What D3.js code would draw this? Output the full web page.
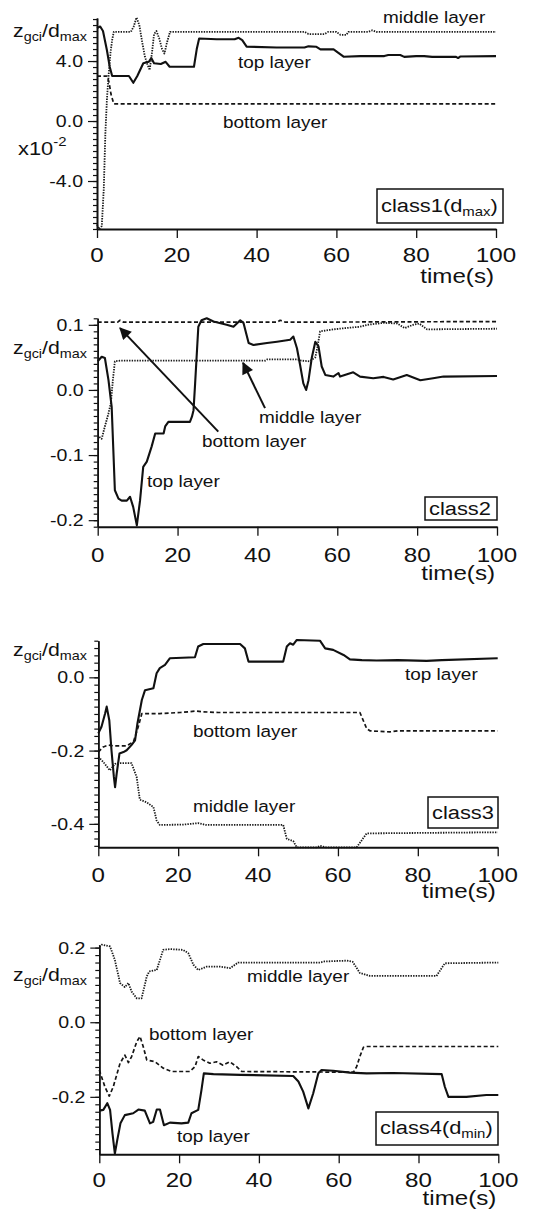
<!DOCTYPE html>
<html>
<head>
<meta charset="utf-8">
<script src="https://cdn.jsdelivr.net/npm/d3@7"></script>
<style>
  body { margin: 0; background: #fff; }
  svg { display: block; }
  text { font-family: "Liberation Sans", Arial, Helvetica, sans-serif; fill: #111; }
</style>
</head>
<body>
<script>
/***********************************************************************/
// Data (time in s, value z_gci/d_max)
/***********************************************************************/
const xTicks = [0, 20, 40, 60, 80, 100]

// class1 values are in units of 1e-2
const c1Top = [[0,6.2],[0.8,6.3],[1.5,6.0],[2.5,4.7],[3.2,3.6],[3.8,3.0],[8.0,3.0],[9.1,2.55],[10.1,3.0],[11.6,3.85],[13.0,3.95],[13.6,4.2],[14.3,3.85],[16.0,3.8],[17.2,3.95],[18.2,3.62],[24.3,3.62],[25.0,4.8],[25.6,5.5],[30,5.45],[34.5,5.45],[35.5,5.55],[36.4,5.4],[37.5,4.96],[45,4.9],[52,4.9],[53,4.98],[55,4.95],[56,4.78],[59.3,4.78],[60.5,4.55],[61.8,4.29],[66,4.33],[72,4.33],[73,4.4],[76,4.4],[77,4.28],[80,4.33],[82,4.33],[84,4.28],[90,4.28],[90.5,4.2],[91,4.3],[100,4.33]]
const c1Mid = [[0,-6.9],[0.5,-7.2],[1.2,-7.0],[1.7,-4.5],[2.1,-0.8],[2.5,1.5],[2.9,3.0],[3.4,4.6],[3.8,5.4],[4.2,5.95],[8.5,5.95],[9.2,6.3],[9.9,6.9],[10.6,6.4],[11.3,5.3],[12.0,4.3],[12.6,3.8],[13.2,3.4],[13.8,4.6],[14.3,5.8],[14.9,6.0],[15.6,5.5],[16.3,4.8],[16.9,4.5],[17.5,5.2],[18.3,5.95],[52,5.95],[53,5.8],[57,5.8],[58,5.95],[60,5.95],[61,5.75],[62.5,5.75],[63,5.95],[68,5.95],[69,6.05],[70,5.95],[100,5.95]]
const c1Bot = [[0,3.0],[2.5,3.0],[3.0,2.6],[3.5,1.8],[4.2,1.15],[100,1.15]]

const c2Top = [[0,0.044],[1,0.051],[1.8,0.049],[2.7,0.015],[3.5,-0.026],[3.9,-0.09],[4.3,-0.154],[5.2,-0.167],[6.0,-0.17],[7.3,-0.17],[8.1,-0.164],[8.9,-0.18],[9.8,-0.208],[10.6,-0.17],[11.4,-0.118],[12.3,-0.11],[13.5,-0.087],[14.4,-0.067],[16.5,-0.067],[16.9,-0.056],[17.7,-0.049],[23.1,-0.049],[23.6,-0.041],[24.0,-0.031],[24.4,0.01],[25.2,0.097],[26,0.107],[27.3,0.11],[29,0.105],[32.3,0.1],[34,0.097],[35.7,0.107],[36.5,0.103],[37.8,0.072],[39,0.069],[42.4,0.072],[44.9,0.074],[48.2,0.077],[49,0.082],[49.9,0.064],[50.7,0.038],[51.5,0.01],[52.2,0.0],[52.8,0.015],[53.6,0.049],[54.5,0.074],[55.3,0.067],[56.1,0.036],[57,0.023],[59,0.0205],[60.3,0.026],[60.7,0.0205],[64,0.027],[65.7,0.0205],[69,0.018],[71.6,0.02],[74,0.016],[77.4,0.023],[80.8,0.015],[84,0.018],[86.6,0.0205],[100,0.0215]]
const c2Mid = [[0.4,-0.072],[1,-0.075],[1.8,-0.056],[2.7,-0.036],[3.3,-0.02],[3.8,0.015],[4.3,0.044],[5.6,0.045],[42,0.045],[42.5,0.047],[50,0.047],[51,0.045],[53,0.044],[54.5,0.05],[55,0.065],[55.7,0.09],[59,0.093],[62,0.095],[65.7,0.097],[67.5,0.1],[71.6,0.103],[75,0.102],[76.9,0.095],[79,0.1],[80.5,0.102],[82.5,0.093],[100,0.094]]
const c2Bot = [[0,0.104],[5,0.104],[5.6,0.107],[6.5,0.104],[45,0.104],[45.7,0.107],[47,0.104],[100,0.105]]

const c3Top = [[0,-0.153],[0.8,-0.135],[1.7,-0.099],[2.1,-0.08],[2.75,-0.117],[3.3,-0.199],[3.9,-0.272],[4.2,-0.3],[4.6,-0.263],[5.3,-0.208],[6.3,-0.204],[7.1,-0.199],[8.3,-0.185],[9.2,-0.172],[9.8,-0.126],[10.9,-0.062],[11.7,-0.035],[13.8,-0.03],[14.6,0.011],[15.4,0.025],[16.7,0.034],[17.9,0.052],[24.2,0.055],[25,0.084],[26.3,0.091],[35.5,0.091],[36.7,0.079],[37.6,0.043],[46.3,0.043],[47.2,0.084],[48,0.093],[48.8,0.089],[49.7,0.102],[55.5,0.1],[56.8,0.079],[58.8,0.075],[61.4,0.061],[63,0.049],[66,0.047],[69.7,0.046],[75,0.047],[82.2,0.045],[86,0.047],[100,0.052]]
const c3Mid = [[0,-0.217],[1.25,-0.231],[2.9,-0.254],[4.2,-0.236],[5.4,-0.234],[8.3,-0.234],[9.6,-0.272],[10.4,-0.334],[12.1,-0.341],[13.8,-0.354],[14.6,-0.391],[15.4,-0.403],[21.3,-0.402],[25,-0.398],[27,-0.403],[46.3,-0.403],[47.2,-0.441],[48.8,-0.447],[49.7,-0.464],[54.7,-0.464],[55.5,-0.46],[57,-0.464],[64.7,-0.464],[66.4,-0.438],[67.2,-0.426],[100,-0.423]]
const c3Bot = [[0,-0.204],[1.25,-0.19],[2.5,-0.185],[3.75,-0.187],[7.1,-0.187],[8.8,-0.176],[10,-0.135],[10.9,-0.099],[15.4,-0.099],[20.5,-0.096],[24.6,-0.092],[26,-0.094],[30,-0.096],[65.5,-0.096],[67.2,-0.14],[68,-0.146],[73,-0.149],[75,-0.146],[100,-0.146]]

const c4Top = [[0,-0.237],[1,-0.235],[2,-0.217],[2.7,-0.235],[3.3,-0.298],[3.9,-0.352],[4.5,-0.316],[5.3,-0.271],[6.4,-0.249],[8.5,-0.244],[9.8,-0.234],[11.4,-0.237],[12.7,-0.271],[13.5,-0.267],[14.4,-0.234],[15.2,-0.234],[16.2,-0.276],[17.7,-0.269],[20.6,-0.271],[22.3,-0.269],[23.1,-0.244],[24.8,-0.235],[25.6,-0.182],[26.2,-0.137],[28.6,-0.139],[35.3,-0.141],[48.6,-0.144],[49.9,-0.159],[51.1,-0.186],[52.4,-0.231],[53.6,-0.191],[54.9,-0.137],[55.7,-0.128],[58.6,-0.13],[62.8,-0.135],[67,-0.137],[73.7,-0.136],[85.8,-0.139],[86.6,-0.173],[87.5,-0.2],[92,-0.2],[97,-0.195],[100,-0.195]]
const c4Mid = [[0,0.203],[0.6,0.208],[2.7,0.203],[3.9,0.167],[5.2,0.105],[6.4,0.094],[7.3,0.105],[8.1,0.082],[9.4,0.064],[10.6,0.064],[11.9,0.123],[12.5,0.136],[14.4,0.14],[16,0.194],[17.7,0.196],[21,0.194],[22.3,0.185],[23.6,0.154],[24.8,0.14],[26.9,0.149],[30.2,0.149],[32.8,0.145],[34.8,0.16],[55.3,0.16],[56.5,0.163],[62,0.165],[63.5,0.162],[65.3,0.132],[67.8,0.124],[84.5,0.124],[86.6,0.158],[100,0.16]]
const c4Bot = [[0,-0.128],[1.4,-0.173],[2.5,-0.198],[3.5,-0.173],[5.2,-0.11],[6.4,-0.088],[7.3,-0.108],[8.1,-0.092],[9.4,-0.052],[10.2,-0.038],[11,-0.065],[11.9,-0.101],[14,-0.106],[16,-0.123],[18.1,-0.132],[22.7,-0.132],[24,-0.119],[24.8,-0.092],[26,-0.101],[27.7,-0.11],[29.4,-0.106],[31,-0.115],[32.7,-0.106],[34.4,-0.119],[35.7,-0.132],[63.7,-0.134],[64.5,-0.119],[65.3,-0.092],[66.2,-0.067],[67,-0.065],[100,-0.065]]

// arrows in class2: [tail time, tail value, tip time, tip value]
const c2Arrows = [[30.2, -0.064, 5.6, 0.095], [41.9, -0.028, 36.4, 0.0415]]

/***********************************************************************/
// Panels
/***********************************************************************/
const panels = [
	{
		x: [97, 496], y: [229, 18], domain: [-7.2, 6.87],
		major: [-4, 0, 4], minorStep: 0.4, fmt: d => d.toFixed(1),
		series: [c1Top, c1Mid, c1Bot],
		ylab: [13, 37], xlabY: 262, timeY: 283,
		box: { x: 377, y: 189, w: 126, h: 34, text: 'class1(', sub: 'max', tx: 381, ty: 212 },
		labels: [['middle layer', 383, 23], ['top layer', 238, 68], ['bottom layer', 223, 128]],
		extra: 'x10'
	},
	{
		x: [97.7, 497], y: [526.7, 318.3], domain: [-0.21, 0.11],
		major: [-0.2, -0.1, 0, 0.1], minorStep: 0.01, fmt: d => d.toFixed(1),
		series: [c2Top, c2Mid, c2Bot],
		ylab: [13, 354], xlabY: 562, timeY: 580,
		box: { x: 425, y: 497, w: 72, h: 23, text: 'class2', tx: 429, ty: 515 },
		labels: [['middle layer', 259, 423], ['bottom layer', 202, 447], ['top layer', 147, 487]],
		arrows: c2Arrows
	},
	{
		x: [98.3, 497.7], y: [847.3, 640.7], domain: [-0.464, 0.1],
		major: [-0.4, -0.2, 0], minorStep: 0.02, fmt: d => d.toFixed(1),
		series: [c3Top, c3Mid, c3Bot],
		ylab: [13, 656], xlabY: 882, timeY: 898,
		box: { x: 428, y: 797, w: 70, h: 31, text: 'class3', tx: 432, ty: 819 },
		labels: [['top layer', 405, 680], ['bottom layer', 193, 737], ['middle layer', 193, 812]]
	},
	{
		x: [99.3, 498.3], y: [1154.3, 945], domain: [-0.354, 0.207],
		major: [-0.2, 0, 0.2], minorStep: 0.02, fmt: d => d.toFixed(1),
		series: [c4Top, c4Mid, c4Bot],
		ylab: [13, 981], xlabY: 1187, timeY: 1205,
		box: { x: 376, y: 1112, w: 122, h: 33, text: 'class4(', sub: 'min', tx: 380, ty: 1134 },
		labels: [['middle layer', 247, 982], ['bottom layer', 149, 1040], ['top layer', 177, 1142]]
	}
]

const styles = [
	{ width: 2.1, dash: null, color: '#111' },
	{ width: 1.8, dash: '1.4,1.2', color: '#1a1a1a' },
	{ width: 1.7, dash: '4,2.5', color: '#151515' }
]

const SX = 1.15
const svg = d3.select('body').append('svg').attr('width', 554).attr('height', 1209)

function txt(g, x, y, str, size, anchor) {
	return g.append('text')
		.attr('transform', `translate(${x},${y}) scale(${SX},1)`)
		.attr('font-size', size + 'px')
		.attr('text-anchor', anchor || 'start')
		.text(str)
}

svg.append('defs').append('marker')
	.attr('id', 'head')
	.attr('viewBox', '0 0 10 10')
	.attr('refX', 9).attr('refY', 5)
	.attr('markerWidth', 7).attr('markerHeight', 6)
	.attr('markerUnits', 'strokeWidth')
	.attr('orient', 'auto')
	.append('path').attr('d', 'M0,0L10,5L0,10z').attr('fill', '#111')

panels.forEach(p => {
	const g = svg.append('g')
	const xScale = d3.scaleLinear().domain([0, 100]).range(p.x)
	const yScale = d3.scaleLinear().domain(p.domain).range(p.y)

	// lines
	const line = d3.line().x(d => xScale(d[0])).y(d => yScale(d[1]))
	p.series.forEach((s, i) => {
		g.append('path')
			.datum(s)
			.attr('fill', 'none')
			.attr('stroke', styles[i].color)
			.attr('stroke-width', styles[i].width)
			.attr('stroke-dasharray', styles[i].dash)
			.attr('stroke-linejoin', 'round')
			.attr('d', line)
	})

	// y axis
	const minor = d3.range(Math.ceil(p.domain[0] / p.minorStep), Math.floor(p.domain[1] / p.minorStep) + 1)
		.map(k => k * p.minorStep)
	const yAxisMinor = d3.axisLeft(yScale).tickValues(minor).tickSize(4).tickFormat('').tickSizeOuter(0)
	const yAxisMajor = d3.axisLeft(yScale).tickValues(p.major).tickSize(9).tickFormat('').tickSizeOuter(0)
	const yg = g.append('g').attr('transform', `translate(${p.x[0]},0)`)
	yg.append('g').call(yAxisMinor)
	yg.append('g').call(yAxisMajor)
	yg.selectAll('.domain').attr('stroke', '#111').attr('stroke-width', 1.6)
	yg.selectAll('line').attr('stroke', '#111').attr('stroke-width', 1.2)
	p.major.forEach(v => txt(g, p.x[0] - 14, yScale(v) + 6, p.fmt(v), 17, 'end'))

	// x axis
	const xAxis = d3.axisBottom(xScale).tickValues(xTicks).tickSize(9).tickFormat('').tickSizeOuter(0)
	const xg = g.append('g').attr('transform', `translate(0,${p.y[0]})`).call(xAxis)
	xg.selectAll('.domain').attr('stroke', '#111').attr('stroke-width', 2)
	xg.selectAll('line').attr('stroke', '#111').attr('stroke-width', 1.3)
	xTicks.forEach(v => txt(g, xScale(v), p.xlabY, String(v), 21, 'middle'))
	txt(g, p.x[1] - 2, p.timeY, 'time(s)', 21, 'end')

	// y label z_gci/d_max
	const yl = txt(g, p.ylab[0], p.ylab[1], 'z', 18.5)
	yl.append('tspan').attr('font-size', '12.5px').attr('dy', 4).text('gci')
	yl.append('tspan').attr('font-size', '18.5px').attr('dy', -4).text('/d')
	yl.append('tspan').attr('font-size', '12.5px').attr('dy', 4).text('max')

	if (p.extra) {
		const ex = txt(g, 18, 155, p.extra, 19)
		ex.append('tspan').attr('font-size', '13px').attr('dy', -9).text('-2')
	}

	// class box
	const b = p.box
	g.append('rect').attr('x', b.x).attr('y', b.y).attr('width', b.w).attr('height', b.h)
		.attr('fill', '#fff').attr('stroke', '#111').attr('stroke-width', 1.5)
	const bt = txt(g, b.tx, b.ty, b.text, 19)
	if (b.sub) {
		bt.append('tspan').text('d')
		bt.append('tspan').attr('font-size', '13px').attr('dy', 4).text(b.sub)
		bt.append('tspan').attr('dy', -4).text(')')
	}

	// layer labels
	p.labels.forEach(([s, x, y]) => txt(g, x, y, s, 16.5))

	// arrows
	if (p.arrows) {
		p.arrows.forEach(a => {
			g.append('line')
				.attr('x1', xScale(a[0])).attr('y1', yScale(a[1]))
				.attr('x2', xScale(a[2])).attr('y2', yScale(a[3]))
				.attr('stroke', '#111').attr('stroke-width', 2)
				.attr('marker-end', 'url(#head)')
		})
	}
})
</script>
</body>
</html>
